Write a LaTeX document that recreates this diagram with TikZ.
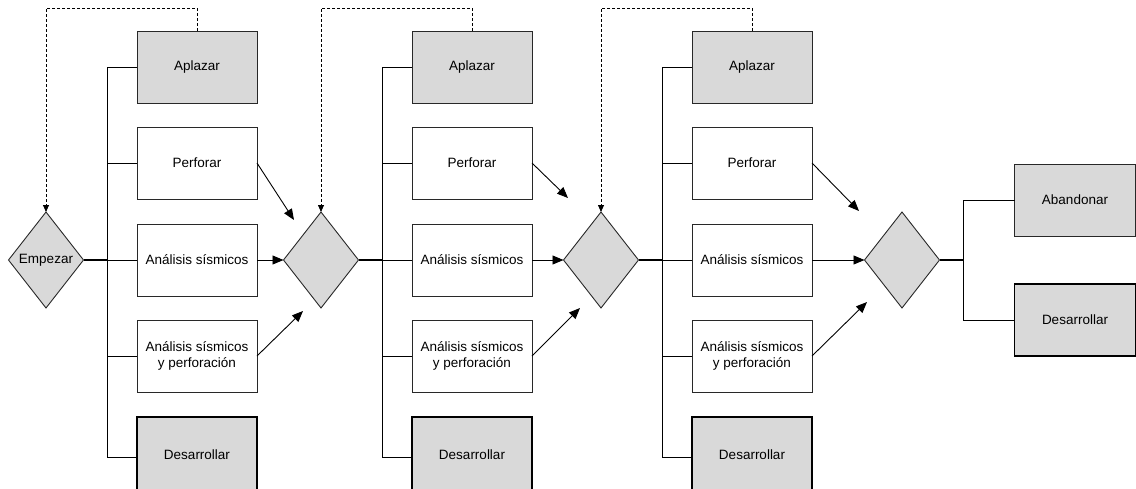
\documentclass[tikz,border=0pt]{standalone}
\usepackage{fontspec}
\setmainfont{Liberation Sans}
\usetikzlibrary{shapes.geometric,arrows.meta}
\definecolor{fillgray}{RGB}{217,217,217}
\definecolor{edgegray}{RGB}{40,40,40}
\begin{document}
\begin{tikzpicture}[x=1pt,y=-1pt,
  every node/.style={font=\fontsize{13.5}{16}\selectfont, inner sep=0pt, outer sep=0pt},
  box/.style={draw=edgegray, line width=0.9pt, minimum width=120pt, minimum height=72pt, align=center},
  graybox/.style={box, fill=fillgray},
  whitebox/.style={box, fill=white},
  devbox/.style={box, fill=fillgray, draw=black, line width=1.8pt},
  decision/.style={diamond, draw=edgegray, line width=0.9pt, fill=fillgray, aspect=0.78, minimum width=75pt, minimum height=96pt},
  conn/.style={line width=0.9pt, draw=black},
  thickconn/.style={line width=1.8pt, draw=black},
  arr/.style={line width=0.9pt, -{Triangle[length=11pt,width=9pt]}},
  dashconn/.style={line width=0.8pt, dash pattern=on 3pt off 2pt, -{Triangle[length=7pt,width=6pt]}}
]
\useasboundingbox (0,0) rectangle (1136,488);

% decisions
\node[decision] (d0) at (46,260) {Empezar};
\node[decision] (d1) at (321,260) {};
\node[decision] (d2) at (601,260) {};
\node[decision] (d3) at (902,260) {};

% bracket coordinates
\coordinate (b1) at (107,260);
\coordinate (b2) at (382,260);
\coordinate (b3) at (662,260);
\coordinate (b4) at (963,260);

% column boxes
\foreach \c/\x in {1/197,2/472,3/752}{
  \node[graybox]  (c\c ap) at (\x,67)  {Aplazar};
  \node[whitebox] (c\c pe) at (\x,163) {Perforar};
  \node[whitebox] (c\c an) at (\x,260) {Análisis sísmicos};
  \node[whitebox] (c\c ay) at (\x,356) {Análisis sísmicos\\y perforación};
  \node[devbox, minimum height=76pt] (c\c dv) at (\x,455) {Desarrollar};
}

% final boxes
\node[graybox, minimum width=121pt] (fab) at (1075,200) {Abandonar};
\node[devbox, minimum width=121pt]  (fdv) at (1075,320) {Desarrollar};

% arrow tips (free ends)
\coordinate (t1a) at (294,220);
\coordinate (t1b) at (303,311);
\coordinate (t2a) at (568,198);
\coordinate (t2b) at (580,308);
\coordinate (t3a) at (859,211);
\coordinate (t3b) at (867,302);

% diamond to bracket
\draw[thickconn] (d0.east) -- (b1);
\draw[thickconn] (d1.east) -- (b2);
\draw[thickconn] (d2.east) -- (b3);
\draw[thickconn] (d3.east) -- (b4);

% brackets
\foreach \c/\b in {1/b1,2/b2,3/b3}{
  \draw[conn] (c\c ap.west) -- (c\c ap.west -| \b) -- ([yshift=-2pt]c\c dv.west -| \b) -- ([yshift=-2pt]c\c dv.west);
  \draw[conn] (c\c pe.west) -- (c\c pe.west -| \b);
  \draw[conn] (\b) -- (c\c an.west);
  \draw[conn] (c\c ay.west) -- (c\c ay.west -| \b);
}
\draw[conn] (fab.west) -- (fab.west -| b4) -- (fdv.west -| b4) -- (fdv.west);

% arrows into decisions
\draw[arr] (c1pe.east) -- (t1a);
\draw[arr] (c1an.east) -- (d1.west);
\draw[arr] (c1ay.east) -- (t1b);
\draw[arr] (c2pe.east) -- (t2a);
\draw[arr] (c2an.east) -- (d2.west);
\draw[arr] (c2ay.east) -- (t2b);
\draw[arr] (c3pe.east) -- (t3a);
\draw[arr] (c3an.east) -- (d3.west);
\draw[arr] (c3ay.east) -- (t3b);

% dashed feedback
\draw[dashconn] (c1ap.north) -- ++(0,-23) -| (d0.north);
\draw[dashconn] (c2ap.north) -- ++(0,-23) -| (d1.north);
\draw[dashconn] (c3ap.north) -- ++(0,-23) -| (d2.north);
\end{tikzpicture}
\end{document}
